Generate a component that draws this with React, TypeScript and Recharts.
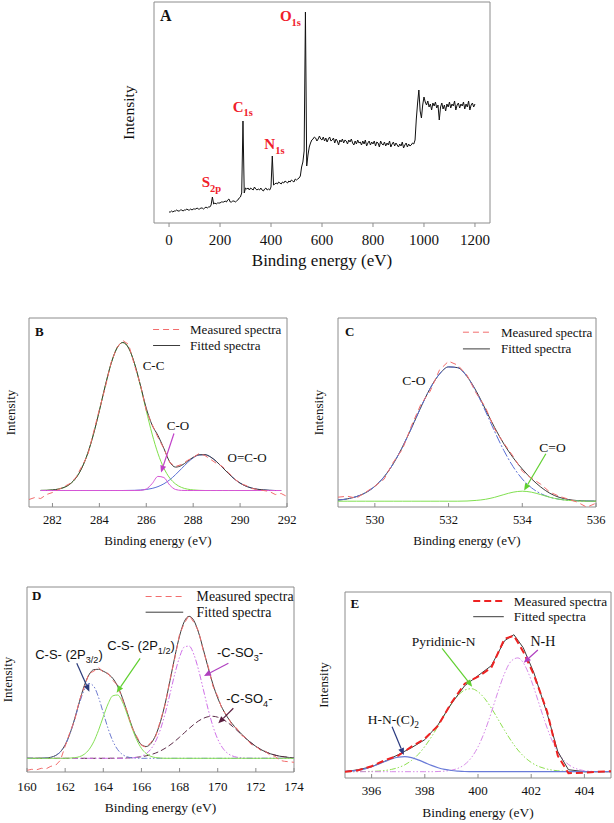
import {
  LineChart,
  Line,
  XAxis,
  YAxis,
  ReferenceArea,
  ReferenceDot,
  ReferenceLine,
} from "recharts"
import type { ReactNode } from "react"

const SERIF = '"Liberation Serif", "Times New Roman", serif'
const SANS = '"Liberation Sans", Arial, sans-serif'
const FRAME = "#8c8c8c"
const FIT = "#3c3c3c"
const RED = "#f26d6d"
const LABEL_RED = "#f0202a"

// energy grid helper (x positions only)
const steps = (from: number, to: number, step: number) =>
  Array.from({ length: Math.round((to - from) / step) + 1 }, (_, i) => +(from + i * step).toFixed(2))

// ---- A: survey spectrum, 5 eV steps from 0 to 1200 eV ----
const surveyIntensity = [
  11, 11, 12, 11, 12, 12, 13, 12, 12, 13,
  13, 12, 13, 13, 14, 13, 13, 14, 13, 14,
  14, 14, 15, 14, 14, 15, 15, 14, 15, 16,
  15, 16, 16, 18, 26, 19, 20, 19, 20, 20,
  20, 21, 21, 21, 22, 21, 23, 24, 21, 21,
  22, 22, 21, 22, 23, 25, 26, 30, 102, 30,
  35, 34, 35, 33, 35, 34, 33, 36, 34, 33,
  34, 33, 35, 33, 32, 34, 35, 33, 34, 33,
  36, 67, 38, 39, 40, 39, 41, 40, 39, 41,
  40, 42, 41, 40, 42, 41, 43, 42, 41, 44,
  43, 44, 45, 47, 56, 61, 72, 211, 57, 68,
  76, 80, 83, 84, 86, 85, 82, 84, 87, 84,
  83, 86, 82, 85, 81, 84, 86, 82, 83, 85,
  80, 84, 82, 78, 83, 81, 84, 80, 83, 82,
  79, 83, 81, 84, 80, 78, 82, 79, 83, 80,
  81, 78, 82, 79, 83, 77, 80, 82, 78, 81,
  79, 82, 77, 81, 80, 76, 82, 79, 78, 81,
  77, 80, 78, 82, 76, 79, 81, 77, 80, 78,
  76, 79, 77, 81, 75, 78, 80, 76, 79, 77,
  78, 80, 79, 83, 104, 120, 133, 112, 105, 118,
  126, 121, 118, 122, 116, 119, 113, 120, 117, 121,
  115, 118, 103, 116, 120, 114, 118, 112, 119, 116,
  121, 115, 119, 117, 122, 113, 118, 120, 115, 119,
  117, 121, 114, 119, 116, 122, 113, 118, 120, 116,
  119,
]
const surveyEnergy = surveyIntensity.map((_, i) => i * 5)
const surveyTicks = [0, 200, 400, 600, 800, 1000, 1200]

// ---- B: C1s ----
const c1sEnergy = steps(281, 292, 0.25)
const c1sTicks = [282, 284, 286, 288, 290, 292]
const c1sMeasured = [
  -9, -7, -8, -4, -2, 1, 4, 7, 13, 24, 35, 58, 81, 103, 128, 143, 150, 146, 125, 106,
  80, 66, 53, 42, 28, 24, 26, 30, 33, 37, 35, 31, 27, 24, 18, 12, 7, 5, 2, 1,
  0, -1, -4, -3, -6,
]
const c1sFitted = [
  null, null, 0.1, 0.2, 0.6, 1.4, 3.1, 6.5, 12.5, 22.4, 36.9, 56.4,
  79.8, 104.6, 126.9, 142.4, 148, 142.4, 126.9, 105.3,
  82.3, 65.4, 54.9, 42.1, 28.6, 23.4, 25.0, 29.1,
  33.2, 35.7, 35.8, 33.4, 28.8, 23.0, 17.1, 11.7,
  7.4, 4.4, 2.4, 1.2, 0.6, 0.2, 0, 0, null,
]
const c1sCC = [
  null, null, 0.1, 0.2, 0.6, 1.4, 3.1, 6.5, 12.5, 22.4, 36.9, 56.4,
  79.8, 104.6, 126.9, 142.4, 148, 142.4, 126.9, 104.6,
  79.8, 56.4, 36.9, 22.4, 12.5, 6.5, 3.1, 1.4,
  0.6, 0.2, 0, 0, 0, 0, 0, 0, 0, 0, 0, 0, 0, 0, 0, 0, null,
]
const c1sCO = [
  null, null, 0, 0, 0, 0, 0, 0, 0, 0, 0, 0, 0, 0, 0, 0, 0, 0, 0,
  0.15, 1.5, 6.9, 14.1, 13.0, 5.4, 1.0, 0.1,
  0, 0, 0, 0, 0, 0, 0, 0, 0, 0, 0, 0, 0, 0, 0, 0, 0, null,
]
const c1sOCO = [
  null, null, 0, 0, 0, 0, 0, 0, 0, 0, 0, 0, 0, 0, 0, 0, 0,
  0.1, 0.2, 0.5, 1.0, 2.1, 3.9, 6.7, 10.7, 15.9, 21.8,
  27.7, 32.6, 35.5, 35.8, 33.4, 28.8, 23.0, 17.1, 11.7, 7.4,
  4.4, 2.4, 1.2, 0.6, 0.2, 0, 0, null,
]

// ---- C: O1s ----
const o1sEnergy = steps(529, 536, 0.25)
const o1sTicks = [530, 532, 534, 536]
const o1sMeasured = [
  4, 5, 3, 9, 15, 22, 39, 52, 76, 97, 110, 131, 140, 136, 126, 108, 94, 72, 58, 45,
  30, 23, 17, 9, 5, 2, -1, -6, -2,
]
const o1sFitted = [
  1.1, 2.3, 4.6, 8.5, 14.9, 24.4, 37.5, 54.3, 73.7, 94.1, 112.8, 127.0, 134.3, 133.5,
  124.8, 110.1, 92.0, 73.6, 57.3, 43.6, 32.2, 22.4, 14.2, 7.9, 3.9, 1.7, 0.6, 0.2, 0.1,
]
const o1sCO = [
  1.1, 2.3, 4.6, 8.5, 14.9, 24.4, 37.5, 54.3, 73.7, 94.1, 112.8, 127.0, 134.3, 133.5,
  124.6, 109.3, 90.1, 69.7, 50.7, 34.6, 22.2, 13.4, 7.6, 4.0, 2.0, 0.9, 0.4, 0.2, 0.1,
]
const o1sCdO = [
  0, 0, 0, 0, 0, 0, 0, 0, 0, 0, 0, 0, 0, 0,
  0.2, 0.8, 1.9, 3.9, 6.6, 9.0, 10, 9.0, 6.6, 3.9, 1.9, 0.8, 0.2, 0, 0,
]

// ---- D: S2p ----
const s2pEnergy = steps(160, 174, 0.25)
const s2pTicks = [160, 162, 164, 166, 168, 170, 172, 174]
const s2pMeasured = [
  -12, -11, -11.5, -10, -10.5, -8, -7, -2, 12,
  26, 38, 58, 71, 85, 87, 91, 86,
  85, 78, 73, 59, 47, 31, 22, 13,
  11, 16, 22, 38, 54, 79, 100, 124,
  135, 143, 136, 127, 107, 92, 72, 62,
  48, 43, 33, 30, 23, 20, 14, 12,
  8, 7, 3, 2, -2, -3, -3.5, -4,
]
const s2pFitted = [
  0, 0, 0, 0.1, 0.3, 1.0, 2.8, 6.5, 13.4,
  24.6, 39.6, 56.7, 72.4, 83.5, 88.6, 89.0, 87.1,
  84.3, 79.9, 72.2, 60.6, 46.2, 32.0, 20.7, 13.7,
  11.8, 14.9, 23.2, 36.7, 55.3, 77.8, 101.4, 122.3,
  136.8, 142.0, 137.7, 125.5, 108.5, 90.5, 74.0, 60.3,
  49.7, 41.4, 34.8, 29.2, 24.1, 19.5, 15.5, 11.9,
  8.9, 6.5, 4.6, 3.2, 2.1, 1.4, 0.8, 0.5,
]
const s2pCS32 = [
  0, 0, 0, 0.1, 0.3, 1.0, 2.8, 6.5, 13.4,
  24.4, 39.0, 55.1, 68.4, 74.8, 72.0, 61.0, 45.5,
  29.9, 17.3, 8.8, 3.9, 1.5, 0.5, 0.2, 0,
  0, 0, 0, 0, 0, 0, 0, 0,
  0, 0, 0, 0, 0, 0, 0, 0,
  0, 0, 0, 0, 0, 0, 0, 0,
  0, 0, 0, 0, 0, 0, 0, 0,
]
const s2pCS12 = [
  0, 0, 0, 0, 0, 0, 0, 0, 0,
  0.2, 0.6, 1.6, 4.0, 8.7, 16.6, 28.0, 41.6,
  54.4, 62.5, 63.3, 56.5, 44.3, 30.6, 18.6, 10.0,
  4.7, 1.9, 0.7, 0.2, 0, 0, 0, 0,
  0, 0, 0, 0, 0, 0, 0, 0,
  0, 0, 0, 0, 0, 0, 0, 0,
  0, 0, 0, 0, 0, 0, 0, 0,
]
const s2pSO3 = [
  0, 0, 0, 0, 0, 0, 0, 0, 0,
  0, 0, 0, 0, 0, 0, 0, 0,
  0, 0, 0, 0, 0, 0.3, 0.9, 2.1,
  4.6, 9.3, 17.2, 29.1, 45.2, 64.5, 84.4, 101.2,
  111.3, 112.2, 103.8, 88.1, 68.5, 48.9, 32.0, 19.2,
  10.6, 5.3, 2.5, 1.1, 0.4, 0.1, 0, 0,
  0, 0, 0, 0, 0, 0, 0, 0,
]
const s2pSO4 = [
  0, 0, 0, 0, 0, 0, 0, 0, 0,
  0, 0, 0, 0, 0, 0, 0, 0,
  0, 0.1, 0.1, 0.2, 0.4, 0.6, 1.0, 1.6,
  2.5, 3.7, 5.3, 7.4, 10.1, 13.3, 17.0, 21.1,
  25.5, 29.8, 33.9, 37.4, 40.0, 41.6, 42.0, 41.1,
  39.1, 36.1, 32.3, 28.1, 23.7, 19.4, 15.5, 11.9,
  8.9, 6.5, 4.6, 3.2, 2.1, 1.4, 0.8, 0.5,
]

// ---- E: N1s ----
const n1sEnergy = steps(395, 405, 0.25)
const n1sTicks = [396, 398, 400, 402, 404]
const n1sTraceEnergy = [
  395, 395.5, 396, 396.5, 397, 397.5, 398, 398.5, 399, 399.5, 400,
  400.5, 401, 401.35, 401.7, 402.1, 402.6, 403, 403.4, 404, 404.5, 405,
]
const n1sFitted = [0, 2, 5, 10.5, 17, 24, 32, 47, 68, 86, 96, 106, 131, 137, 124, 99, 58, 20, 2, 0, 0, 0]
const n1sMeasured = [0, 1.5, 5.5, 11.5, 16, 25, 33, 46, 69, 88, 95, 104, 133, 136, 120, 97, 60, 16, -1.5, -1, 0, 0.5]
const n1sHNC2 = [
  0.3, 0.8, 1.6, 2.9, 4.9, 7.4, 10.2, 12.8, 14.5, 15.0,
  14.0, 11.8, 9.1, 6.3, 4.0, 2.3, 1.2, 0.6, 0.2, 0.1,
  0, 0, 0, 0, 0, 0, 0, 0, 0, 0,
  0, 0, 0, 0, 0, 0, 0, 0, 0, 0, 0,
]
const n1sPyridinic = [
  0, 0, 0.1, 0.2, 0.3, 0.6, 1.2, 2.3, 4.1, 6.9,
  11.2, 17.2, 25.2, 34.8, 45.8, 57.2, 67.8, 76.3, 81.6, 83.0,
  80.0, 73.2, 63.7, 52.6, 41.3, 30.8, 21.7, 14.6, 9.3, 5.6,
  3.3, 1.8, 0.9, 0.5, 0.2, 0.1, 0, 0, 0, 0, 0,
]
const n1sNH = [
  0, 0, 0, 0, 0, 0, 0, 0, 0, 0,
  0, 0, 0, 0, 0.2, 0.6, 1.5, 3.4, 7.2, 14.0,
  24.8, 40.1, 59.2, 79.9, 98.4, 110.7, 113.8, 106.8, 91.5, 71.7,
  51.2, 33.4, 20.0, 10.9, 5.4, 2.5, 1.0, 0.4, 0.1, 0, 0,
]

const pts = (energy: number[], values: (number | null)[]) =>
  energy.map((e, i) => ({ e, v: values[i] }))

const DASH_DOT = "9 2 2 2"
const DASH_DOT_DOT = "6 2 1.5 2 1.5 2"

function series(
  key: string,
  data: { e: number; v: number | null }[],
  color: string,
  o: { dash?: string; width?: number; type?: "monotone" | "linear" } = {}
) {
  return (
    <Line
      key={key}
      data={data}
      dataKey="v"
      stroke={color}
      strokeWidth={o.width ?? 1}
      strokeDasharray={o.dash}
      type={o.type ?? "monotone"}
      dot={false}
      activeDot={false}
      isAnimationActive={false}
    />
  )
}

type NoteOpts = {
  size?: number
  family?: string
  color?: string
  bold?: boolean
  anchor?: "start" | "middle" | "end"
}

function note(key: string, x: number, y: number, content: ReactNode, o: NoteOpts = {}) {
  const size = o.size ?? 13
  return (
    <ReferenceDot
      key={key}
      x={x}
      y={y}
      r={0}
      ifOverflow="visible"
      shape={(d: any) => (
        <text
          x={d.cx}
          y={d.cy + size * 0.34}
          textAnchor={o.anchor ?? "middle"}
          fontSize={size}
          fontFamily={o.family ?? SERIF}
          fontWeight={o.bold ? 700 : 400}
          fill={o.color ?? "#111"}
        >
          {content}
        </text>
      )}
    />
  )
}

// text with a subscript and an optional tail back on the baseline
function withSub(main: string, s: string, tail: string, size: number) {
  return (
    <>
      {main}
      <tspan dy={size * 0.3} fontSize={size * 0.7}>{s}</tspan>
      {tail ? <tspan dy={-size * 0.3}>{tail}</tspan> : null}
    </>
  )
}

function ArrowShape({ x1, y1, x2, y2, color }: any) {
  const a = Math.atan2(y2 - y1, x2 - x1)
  const len = 7
  const half = 3
  const bx = x2 - len * Math.cos(a)
  const by = y2 - len * Math.sin(a)
  const head = `${x2},${y2} ${bx - half * Math.sin(a)},${by + half * Math.cos(a)} ${bx + half * Math.sin(a)},${by - half * Math.cos(a)}`
  return (
    <g>
      <line x1={x1} y1={y1} x2={bx} y2={by} stroke={color} strokeWidth={1.2} />
      <polygon points={head} fill={color} />
    </g>
  )
}

function arrow(key: string, from: [number, number], to: [number, number], color: string) {
  return (
    <ReferenceLine
      key={key}
      segment={[{ x: from[0], y: from[1] }, { x: to[0], y: to[1] }]}
      ifOverflow="visible"
      shape={(d: any) => <ArrowShape x1={d.x1} y1={d.y1} x2={d.x2} y2={d.y2} color={color} />}
    />
  )
}

function legend(
  x: number,
  y: number,
  o: { len: number; dx: number; gap: number; size: number; red: string; redWidth: number; dash: string }
) {
  return (
    <ReferenceDot
      key="legend"
      x={x}
      y={y}
      r={0}
      ifOverflow="visible"
      shape={(d: any) => (
        <g fontFamily={SERIF} fontSize={o.size} fill="#111">
          <line x1={d.cx} y1={d.cy} x2={d.cx + o.len} y2={d.cy} stroke={o.red} strokeWidth={o.redWidth} strokeDasharray={o.dash} />
          <text x={d.cx + o.dx} y={d.cy + o.size * 0.34}>Measured spectra</text>
          <line x1={d.cx} y1={d.cy + o.gap} x2={d.cx + o.len} y2={d.cy + o.gap} stroke={FIT} />
          <text x={d.cx + o.dx} y={d.cy + o.gap + o.size * 0.34}>Fitted spectra</text>
        </g>
      )}
    />
  )
}

interface PanelProps {
  left: number
  top: number
  plotW: number
  plotH: number
  yAxisW: number
  xAxisH: number
  marginRight?: number
  xDomain: [number, number]
  yDomain: [number, number]
  ticks: number[]
  tickSize: number
  tickMargin: number
  tickFont: number
  titleFont: number
  titleOffset: number
  yLabelFont: number
  children: ReactNode
}

function Panel(p: PanelProps) {
  const mt = 12
  const mr = p.marginRight ?? 14
  const width = p.yAxisW + p.plotW + mr
  const height = mt + p.plotH + p.xAxisH
  return (
    <div style={{ position: "absolute", left: p.left - p.yAxisW, top: p.top - mt }}>
      <LineChart width={width} height={height} margin={{ top: mt, right: mr, bottom: 0, left: 0 }}>
        <XAxis
          dataKey="e"
          type="number"
          domain={p.xDomain}
          allowDataOverflow
          ticks={p.ticks}
          interval={0}
          height={p.xAxisH}
          axisLine={false}
          tickSize={p.tickSize}
          tickMargin={p.tickMargin}
          tickLine={{ stroke: FRAME }}
          tick={{ fontSize: p.tickFont, fontFamily: SERIF, fill: "#111" }}
          label={{
            value: "Binding energy (eV)",
            position: "insideBottom",
            offset: p.titleOffset,
            fontSize: p.titleFont,
            fontFamily: SERIF,
            fill: "#111",
          }}
        />
        <YAxis
          type="number"
          domain={p.yDomain}
          allowDataOverflow
          width={p.yAxisW}
          tick={false}
          tickLine={false}
          axisLine={false}
          label={{
            value: "Intensity",
            angle: -90,
            position: "center",
            fontSize: p.yLabelFont,
            fontFamily: SERIF,
            fill: "#111",
          }}
        />
        <ReferenceArea
          x1={p.xDomain[0]}
          x2={p.xDomain[1]}
          y1={p.yDomain[0]}
          y2={p.yDomain[1]}
          fill="none"
          stroke={FRAME}
          strokeWidth={1}
          ifOverflow="visible"
        />
        {p.children}
      </LineChart>
    </div>
  )
}

export default function App() {
  return (
    <div
      style={{
        position: "absolute",
        left: 0,
        top: 0,
        width: 614,
        height: 823,
        overflow: "hidden",
        background: "#fff",
      }}
    >
      {/* A: survey */}
      <Panel
        left={154} top={2} plotW={336} plotH={221} yAxisW={52} xAxisH={51}
        xDomain={[-59, 1259]} yDomain={[0, 221]} ticks={surveyTicks}
        tickSize={4} tickMargin={7} tickFont={15} titleFont={17} titleOffset={8} yLabelFont={15.5}
      >
        {series("survey", pts(surveyEnergy, surveyIntensity), "#111", { type: "linear" })}
        {note("lblA", -35, 207, "A", { anchor: "start", bold: true, size: 16 })}
        {note("o1s", 435, 207, withSub("O", "1s", "", 15), { anchor: "start", bold: true, size: 15, color: LABEL_RED })}
        {note("c1s", 249.8, 116.5, withSub("C", "1s", "", 15), { anchor: "start", bold: true, size: 15, color: LABEL_RED })}
        {note("n1s", 373.7, 79, withSub("N", "1s", "", 15), { anchor: "start", bold: true, size: 15, color: LABEL_RED })}
        {note("s2p", 128.2, 40.7, withSub("S", "2p", "", 15), { anchor: "start", bold: true, size: 15, color: LABEL_RED })}
      </Panel>

      {/* B: C1s */}
      <Panel
        left={29} top={317.5} plotW={258} plotH={189} yAxisW={38} xAxisH={45}
        xDomain={[281, 292]} yDomain={[-16.5, 172.5]} ticks={c1sTicks}
        tickSize={-4} tickMargin={12} tickFont={12.5} titleFont={13} titleOffset={7.5} yLabelFont={13}
      >
        {series("cc", pts(c1sEnergy, c1sCC), "#7fe04a")}
        {series("oco", pts(c1sEnergy, c1sOCO), "#5a6fd6")}
        {series("fit", pts(c1sEnergy, c1sFitted), FIT)}
        {series("co", pts(c1sEnergy, c1sCO), "#d655d6")}
        {series("meas", pts(c1sEnergy, c1sMeasured), RED, { dash: "6 4", type: "linear" })}
        {note("lblB", 281.26, 159, "B", { anchor: "start", bold: true, size: 13 })}
        {legend(286.29, 161, { len: 27, dx: 37, gap: 16, size: 13, red: RED, redWidth: 1, dash: "6 4" })}
        {note("tCC", 286.31, 125, "C-C")}
        {note("tCO", 287.35, 65, "C-O")}
        {arrow("aCO", [287.18, 57], [286.63, 18], "#c040c8")}
        {note("tOCO", 290.3, 32.5, "O=C-O")}
      </Panel>

      {/* C: O1s */}
      <Panel
        left={338} top={317.5} plotW={258} plotH={189} yAxisW={40} xAxisH={45}
        xDomain={[529, 536]} yDomain={[-5.8, 183.2]} ticks={o1sTicks}
        tickSize={-4} tickMargin={12} tickFont={12.5} titleFont={13} titleOffset={7.5} yLabelFont={13}
      >
        {series("fit", pts(o1sEnergy, o1sFitted), FIT)}
        {series("co", pts(o1sEnergy, o1sCO), "#5a6fd6", { dash: DASH_DOT })}
        {series("cdo", pts(o1sEnergy, o1sCdO), "#80e050")}
        {series("meas", pts(o1sEnergy, o1sMeasured), RED, { dash: "6 4", type: "linear" })}
        {note("lblC", 529.19, 169.7, "C", { anchor: "start", bold: true, size: 13 })}
        {legend(532.39, 169, { len: 27, dx: 38, gap: 16.7, size: 13, red: RED, redWidth: 1, dash: "6 4" })}
        {note("tCO", 531.06, 120.7, "C-O", { size: 13.5 })}
        {note("tCdO", 534.82, 54, "C=O", { size: 13.5 })}
        {arrow("aCdO", [534.64, 47.4], [534.05, 10.7], "#60d030")}
      </Panel>

      {/* D: S2p */}
      <Panel
        left={27} top={587} plotW={267} plotH={185} yAxisW={39} xAxisH={45}
        xDomain={[160, 174]} yDomain={[-13.7, 171.3]} ticks={s2pTicks}
        tickSize={-4} tickMargin={14} tickFont={13} titleFont={13.5} titleOffset={5} yLabelFont={13}
      >
        {series("fit", pts(s2pEnergy, s2pFitted), FIT)}
        {series("so4", pts(s2pEnergy, s2pSO4), "#5c2c48", { dash: "6 3" })}
        {series("so3", pts(s2pEnergy, s2pSO3), "#d070e8", { dash: DASH_DOT_DOT })}
        {series("cs32", pts(s2pEnergy, s2pCS32), "#6d7ad0", { dash: DASH_DOT_DOT })}
        {series("cs12", pts(s2pEnergy, s2pCS12), "#85e055")}
        {series("meas", pts(s2pEnergy, s2pMeasured), RED, { dash: "6 4", type: "linear" })}
        {note("lblD", 160.26, 162.8, "D", { anchor: "start", bold: true, size: 13 })}
        {legend(166.22, 161.8, { len: 37.6, dx: 51, gap: 15.7, size: 13.8, red: RED, redWidth: 1, dash: "6 4" })}
        {note("tCS32", 162.2, 103.3, withSub("C-S- (2P", "3/2", ")", 13), { family: SANS, size: 13 })}
        {arrow("aCS32", [162.61, 95], [163.27, 66.6], "#2a3a7a")}
        {note("tCS12", 165.98, 112.5, withSub("C-S- (2P", "1/2", ")", 13), { family: SANS, size: 13 })}
        {arrow("aCS12", [165.93, 100], [164.7, 65.6], "#60d030")}
        {note("tSO3", 171.17, 105.3, withSub("-C-SO", "3", "-", 13), { family: SANS, size: 13 })}
        {arrow("aSO3", [170.56, 95], [169.28, 82.3], "#b040c0")}
        {note("tSO4", 171.66, 59.8, withSub("-C-SO", "4", "-", 13), { family: SANS, size: 13 })}
        {arrow("aSO4", [170.82, 50], [170.03, 35], "#5a2040")}
      </Panel>

      {/* E: N1s */}
      <Panel
        left={344.5} top={592} plotW={266} plotH={186} yAxisW={43} xAxisH={45} marginRight={2}
        xDomain={[395, 405]} yDomain={[-6.3, 179.7]} ticks={n1sTicks}
        tickSize={-4} tickMargin={12} tickFont={13} titleFont={13.5} titleOffset={6} yLabelFont={13}
      >
        {series("pyr", pts(n1sEnergy, n1sPyridinic), "#8ee050", { dash: DASH_DOT_DOT })}
        {series("nh", pts(n1sEnergy, n1sNH), "#d78ae8", { dash: DASH_DOT_DOT })}
        {series("fit", pts(n1sTraceEnergy, n1sFitted), FIT, { type: "linear" })}
        {series("hnc", pts(n1sEnergy, n1sHNC2), "#6a7bd8", { width: 1.2 })}
        {series("meas", pts(n1sTraceEnergy, n1sMeasured), "#ee2222", { dash: "7 4", width: 2, type: "linear" })}
        {note("lblE", 395.21, 168.2, "E", { anchor: "start", bold: true, size: 13 })}
        {legend(399.82, 170.7, { len: 30.6, dx: 40.6, gap: 15.7, size: 13.3, red: "#ee2222", redWidth: 2, dash: "7 4" })}
        {note("tPyr", 398.71, 130, "Pyridinic-N", { size: 13.5 })}
        {arrow("aPyr", [398.65, 123.4], [399.78, 85], "#60d030")}
        {note("tNH", 402.44, 130.4, "N-H", { size: 14 })}
        {arrow("aNH", [402.25, 121.7], [401.72, 109], "#b040c0")}
        {note("tHNC", 396.82, 52.5, withSub("H-N-(C)", "2", "", 13.5), { size: 13.5 })}
        {arrow("aHNC", [396.77, 45], [397.21, 16.7], "#2a3a80")}
      </Panel>
    </div>
  )
}
